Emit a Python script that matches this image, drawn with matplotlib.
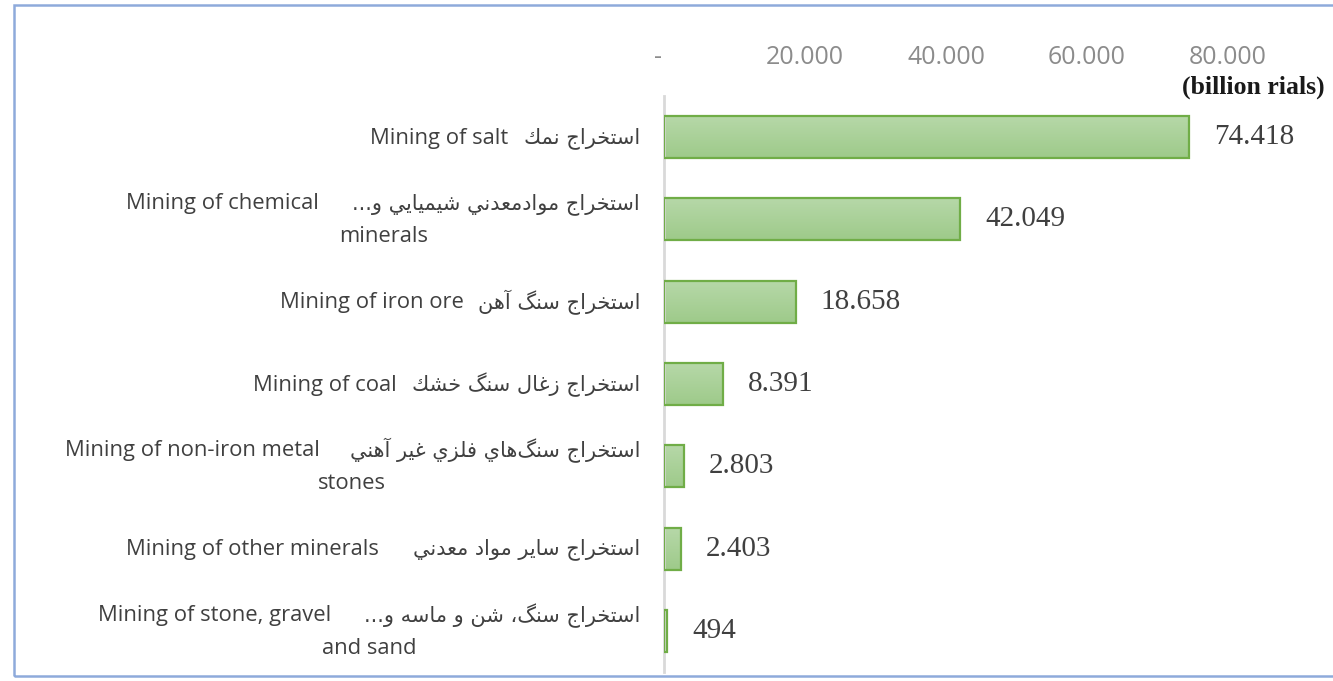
import matplotlib
matplotlib.use("Agg")
import matplotlib.pyplot as plt
import numpy as np
from matplotlib.patches import Rectangle
from matplotlib.colors import LinearSegmentedColormap

# ---------------- data ----------------
english_labels = ["Mining of salt", "Mining of chemical", "Mining of iron ore",
                  "Mining of coal", "Mining of non-iron metal",
                  "Mining of other minerals", "Mining of stone, gravel"]
english_second = ["", "minerals", "", "", "stones", "", "and sand"]
persian_labels = ["استخراج نمك", "استخراج موادمعدني شيميايي و...",
                  "استخراج سنگ آهن", "استخراج زغال سنگ خشك",
                  "استخراج سنگ\u200cهاي فلزي غير آهني",
                  "استخراج ساير مواد معدني", "استخراج سنگ، شن و ماسه و..."]
values = [74418, 42049, 18658, 8391, 2803, 2403, 494]
value_texts = ["74.418", "42.049", "18.658", "8.391", "2.803", "2.403", "494"]
x_ticks = [0, 20000, 40000, 60000, 80000]
x_tick_labels = ["-  ", "20.000", "40.000", "60.000", "80.000"]
unit_label = "(billion rials)"

# layout only: pixel gap between English and Persian parts
gap_px = [15, 33, 14, 15, 30, 34, 32]

# ---------------- simple Arabic-script shaping ----------------
FORMS = {
    "\u0627": ("\uFE8D", "\uFE8E", None, None),
    "\u0622": ("\uFE81", "\uFE82", None, None),
    "\u062F": ("\uFEA9", "\uFEAA", None, None),
    "\u0631": ("\uFEAD", "\uFEAE", None, None),
    "\u0632": ("\uFEAF", "\uFEB0", None, None),
    "\u0648": ("\uFEED", "\uFEEE", None, None),
    "\u062A": ("\uFE95", "\uFE96", "\uFE97", "\uFE98"),
    "\u062C": ("\uFE9D", "\uFE9E", "\uFE9F", "\uFEA0"),
    "\u062E": ("\uFEA5", "\uFEA6", "\uFEA7", "\uFEA8"),
    "\u0633": ("\uFEB1", "\uFEB2", "\uFEB3", "\uFEB4"),
    "\u0634": ("\uFEB5", "\uFEB6", "\uFEB7", "\uFEB8"),
    "\u0639": ("\uFEC9", "\uFECA", "\uFECB", "\uFECC"),
    "\u063A": ("\uFECD", "\uFECE", "\uFECF", "\uFED0"),
    "\u0641": ("\uFED1", "\uFED2", "\uFED3", "\uFED4"),
    "\u0643": ("\uFED9", "\uFEDA", "\uFEDB", "\uFEDC"),
    "\u0644": ("\uFEDD", "\uFEDE", "\uFEDF", "\uFEE0"),
    "\u0645": ("\uFEE1", "\uFEE2", "\uFEE3", "\uFEE4"),
    "\u0646": ("\uFEE5", "\uFEE6", "\uFEE7", "\uFEE8"),
    "\u0647": ("\uFEE9", "\uFEEA", "\uFEEB", "\uFEEC"),
    "\u064A": ("\uFEF1", "\uFEF2", "\uFEF3", "\uFEF4"),
    "\u06AF": ("\uFB92", "\uFB93", "\uFB94", "\uFB95"),
}


def dual(c):
    return c in FORMS and FORMS[c][2] is not None


def shape(s):
    out = []
    for i, c in enumerate(s):
        if c not in FORMS:
            if c != "\u200c":
                out.append(c)
            continue
        prev = s[i - 1] if i > 0 else None
        nxt = s[i + 1] if i + 1 < len(s) else None
        jp = prev is not None and dual(prev)
        jn = nxt is not None and nxt in FORMS and dual(c)
        iso, fin, ini, med = FORMS[c]
        if jp and jn:
            out.append(med)
        elif jp:
            out.append(fin)
        elif jn:
            out.append(ini)
        else:
            out.append(iso)
    return "".join(out)[::-1]


# ---------------- figure ----------------
W, H = 1333, 681
fig = plt.figure(figsize=(W / 100, H / 100), dpi=100)
fig.patch.set_facecolor("white")

fig.patches.append(Rectangle((14 / W, 1 - 676 / H), (1340 - 14) / W, (676 - 5) / H,
                             transform=fig.transFigure, fill=False,
                             edgecolor="#8EAADB", linewidth=1.8, zorder=0))

left_px, right_px, top_px, bot_px = 664, 1228, 96, 672
ax = fig.add_axes([left_px / W, 1 - bot_px / H, (right_px - left_px) / W, (bot_px - top_px) / H])

n = len(values)
ypos = np.arange(n)
bars = ax.barh(ypos, values, height=0.51, facecolor="none",
               edgecolor="#70AD47", linewidth=1.6, zorder=3)

cmap = LinearSegmentedColormap.from_list("g", ["#B6D8A8", "#9ECA8A"])
grad = np.linspace(0, 1, 64).reshape(-1, 1)
for b in bars:
    x0, y0 = b.get_x(), b.get_y()
    w, h = b.get_width(), b.get_height()
    im = ax.imshow(grad, cmap=cmap, aspect="auto", extent=(x0, x0 + w, y0 + h, y0),
                   zorder=2, interpolation="bilinear")
    im.set_clip_path(b)
ax.set_xlim(0, 80000)
ax.set_ylim(n - 0.5, -0.5)

for s in ["top", "right", "bottom"]:
    ax.spines[s].set_visible(False)
ax.spines["left"].set_color("#D9D9D9")
ax.spines["left"].set_linewidth(2)
ax.xaxis.tick_top()
ax.set_xticks(x_ticks)
ax.set_xticklabels(x_tick_labels, fontsize=18, color="#8C8C8C", family="Open Sans")
ax.tick_params(axis="x", length=0, pad=18.5)
ax.set_yticks([])

# category labels (English + Persian parts)
renderer = fig.canvas.get_renderer()
to_px = ax.transData
line_sep = 33
text_color = "#404040"
for i in range(n):
    _, yc = to_px.transform((0, i))
    y1 = yc + (line_sep / 2 if english_second[i] else 0) - 1
    xr = 640
    tp = fig.text(xr / W, y1 / H, shape(persian_labels[i]), ha="right", va="center",
                  fontsize=15, color=text_color, family="DejaVu Sans")
    bb = tp.get_window_extent(renderer)
    xe = bb.x0 - gap_px[i]
    te = fig.text(xe / W, y1 / H, english_labels[i], ha="right", va="center",
                  fontsize=15.8, color=text_color, family="Open Sans")
    if english_second[i]:
        bb2 = te.get_window_extent(renderer)
        xc = (bb2.x0 + xr) / 2
        fig.text(xc / W, (y1 - line_sep) / H, english_second[i], ha="center", va="center",
                 fontsize=15.8, color=text_color, family="Open Sans")

# value labels
for i, (v, t) in enumerate(zip(values, value_texts)):
    ax.annotate(t, (v, i), xytext=(25, 0), textcoords="offset pixels",
                ha="left", va="center", fontsize=21, color="#404040",
                family="Liberation Serif")

fig.text(1325 / W, 1 - 87 / H, unit_label, ha="right", va="center",
         fontsize=18.5, fontweight="bold", color="#1A1A1A", family="Liberation Serif")

fig.savefig("out.png", dpi=100, facecolor="white")
